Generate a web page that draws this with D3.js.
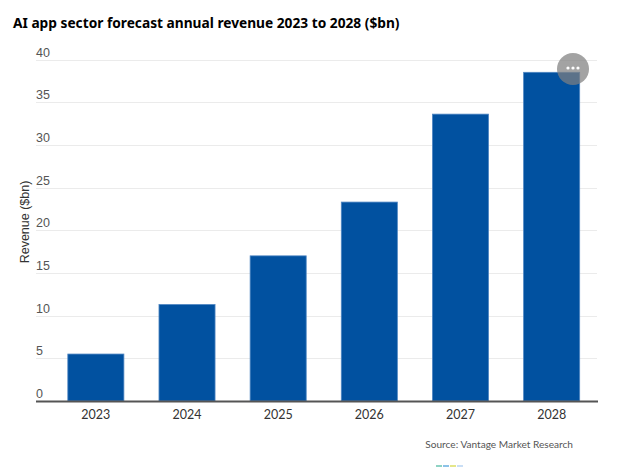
<!DOCTYPE html>
<html>
<head>
<meta charset="utf-8">
<script src="https://cdn.jsdelivr.net/npm/d3@7"></script>
<style>
  html, body { margin: 0; padding: 0; background: #fff; }
  svg { display: block; }
</style>
</head>
<body>
<div id="chart"></div>
<script>
'use strict';

// values
var years = ['2023', '2024', '2025', '2026', '2027', '2028'];
var revenue = [5.5, 11.3, 17.0, 23.3, 33.6, 38.5];
var y_ticks = [0, 5, 10, 15, 20, 25, 30, 35, 40];
var strip_colors = ['#8fd3c4', '#8cc2e8', '#e4e68a', '#c9def5'];

var width = 626,
    height = 467,
    plot_left = 36,
    plot_right = 597,
    plot_top = 59.5,
    plot_bottom = 401,
    bar_color = '#0151a0';

var svg = d3.select('#chart')
    .append('svg')
    .attr('width', width)
    .attr('height', height);

var x = d3.scaleBand()
    .domain(years)
    .range([50.5, plot_right])
    .paddingInner(0.385)
    .paddingOuter(0.19);

var y = d3.scaleLinear()
    .domain([0, 40])
    .range([plot_bottom, plot_top]);

// title, squeezed to the reference width
var title = svg.append('text')
    .attr('x', 13)
    .attr('y', 28)
    .attr('font-family', 'Noto Sans, sans-serif')
    .attr('font-weight', 'bold')
    .attr('font-size', 15)
    .attr('fill', '#000')
    .text('AI app sector forecast annual revenue 2023 to 2028 ($bn)');
var title_len = title.node().getComputedTextLength();
if (title_len > 0) {
    title.attr('font-size', 15 * 387 / title_len);
}

// grid lines
svg.append('g')
    .selectAll('line')
    .data(y_ticks.filter(function(d) { return d > 0; }))
    .enter()
    .append('line')
    .attr('x1', plot_left)
    .attr('x2', plot_right)
    .attr('y1', function(d) { return Math.round(y(d)) + 0.5; })
    .attr('y2', function(d) { return Math.round(y(d)) + 0.5; })
    .attr('stroke', '#ebebeb')
    .attr('stroke-width', 1);

// y tick labels sit just above their grid line
svg.append('g')
    .selectAll('text')
    .data(y_ticks)
    .enter()
    .append('text')
    .attr('x', plot_left)
    .attr('y', function(d) { return y(d) - 3; })
    .attr('font-family', 'Liberation Sans, Arial, sans-serif')
    .attr('font-size', 12.5)
    .attr('fill', '#555')
    .text(function(d) { return d; });

// y axis title
svg.append('text')
    .attr('transform', 'translate(29,222) rotate(-90)')
    .attr('text-anchor', 'middle')
    .attr('font-family', 'Liberation Sans, Arial, sans-serif')
    .attr('font-size', 12.5)
    .attr('fill', '#333')
    .text('Revenue ($bn)');

// bars
svg.append('g')
    .selectAll('rect')
    .data(revenue)
    .enter()
    .append('rect')
    .attr('x', function(d, i) { return x(years[i]); })
    .attr('y', function(d) { return y(d); })
    .attr('width', x.bandwidth())
    .attr('height', function(d) { return plot_bottom - y(d); })
    .attr('fill', bar_color)
    .attr('stroke', '#4f86c2')
    .attr('stroke-width', 0.8);

// x axis
var x_axis = svg.append('g')
    .attr('transform', 'translate(0,' + plot_bottom + ')')
    .call(d3.axisBottom(x).tickSize(0).tickPadding(9));
x_axis.select('.domain').remove();
x_axis.append('line')
    .attr('x1', plot_left)
    .attr('x2', plot_right + 1)
    .attr('y1', 0.5)
    .attr('y2', 0.5)
    .attr('stroke', '#555')
    .attr('stroke-width', 2);
x_axis.selectAll('.tick text')
    .attr('font-family', 'Lato, sans-serif')
    .attr('font-size', 12.5)
    .attr('fill', '#333');

// source note
svg.append('text')
    .attr('x', 573)
    .attr('y', 448)
    .attr('text-anchor', 'end')
    .attr('font-family', 'Lato, sans-serif')
    .attr('font-size', 10.1)
    .attr('fill', '#555')
    .text('Source: Vantage Market Research');

// little logo strip at the bottom
svg.append('g')
    .selectAll('rect')
    .data(strip_colors)
    .enter()
    .append('rect')
    .attr('x', function(d, i) { return 436 + i * 7; })
    .attr('y', 465)
    .attr('width', 6)
    .attr('height', 2)
    .attr('fill', function(d) { return d; });

// context menu button
var menu = svg.append('g')
    .attr('transform', 'translate(573,69)');
menu.append('circle')
    .attr('r', 16)
    .attr('fill', 'rgba(128,128,128,0.72)');
menu.selectAll('circle.dot')
    .data([-5, 0, 5])
    .enter()
    .append('circle')
    .attr('class', 'dot')
    .attr('cx', function(d) { return d; })
    .attr('cy', -1)
    .attr('r', 1.6)
    .attr('fill', '#fff');
</script>
</body>
</html>
